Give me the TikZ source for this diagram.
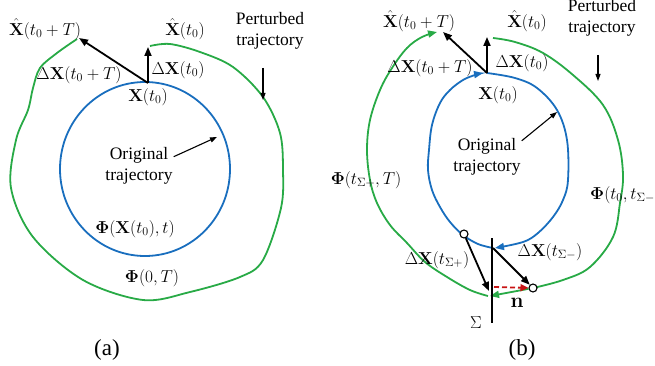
\documentclass[tikz,border=0pt]{standalone}
\usepackage[no-math]{fontspec}
\setmainfont{Liberation Serif}
\usepackage{amsmath}
\usetikzlibrary{arrows.meta,positioning}
\definecolor{orbblue}{RGB}{25,110,190}
\definecolor{pertgreen}{RGB}{40,170,70}
\definecolor{nred}{RGB}{200,20,20}

\begin{document}
\begin{tikzpicture}[x=1pt, y=-1pt,
  lbl/.style={font=\fontsize{17}{19}\selectfont, inner sep=1pt},
  txt/.style={font=\fontsize{17.5}{21.5}\selectfont, align=center, inner sep=1pt},
  subcap/.style={font=\fontsize{23}{25}\selectfont, inner sep=1pt},
  orig/.style={draw=orbblue, line width=1.8pt},
  pert/.style={draw=pertgreen, line width=1.8pt},
  vec/.style={-{Triangle[length=9pt, width=7pt]}, line width=1.8pt},
  ptr/.style={-{Triangle[length=7pt, width=5pt]}, line width=1.1pt},
  flow/.style={-{Triangle[length=9pt, width=7pt]}},
  nvec/.style={-{Triangle[length=8pt, width=7pt]}, line width=1.8pt, draw=nred, dashed, dash pattern=on 5pt off 3pt},
  dot/.style={circle, draw, fill=white, line width=1.1pt, minimum size=8pt, inner sep=0pt}]
\useasboundingbox (0,0) rectangle (655,366);
% (a) original and perturbed trajectory
\draw[orig] (145,169) circle[x radius=85, y radius=87];
\coordinate (xa) at (148,83);
\coordinate (xha) at (148,47);
\coordinate (xhTa) at (79,38);
\draw[pert] plot[smooth, tension=0.55] coordinates {(150,46) (170,44) (200,52) (233,67)
  (263,97) (280,133) (283,170) (281,208) (263,260) (240,277) (190,292) (143,300) (83,280)
  (33,237) (11,188) (16,140) (28,110) (33,88) (40,68) (57,53) (77,39)};
\draw[vec] (xa) -- (xha);
\draw[vec] (xa) -- (xhTa);
\node[lbl, below=4pt of xa] (x0a) {$\mathbf{X}(t_0)$};
\node[lbl] (dx0a) at (178,70) {$\Delta\mathbf{X}(t_0)$};
\node[lbl] (dxTa) at (79,75) {$\Delta\mathbf{X}(t_0+T)$};
\node[lbl] (hx0a) at (185,29) {$\hat{\mathbf{X}}(t_0)$};
\node[lbl] (hxTa) at (45,29) {$\hat{\mathbf{X}}(t_0+T)$};
\node[txt] (perta) at (270,31) {Perturbed\\trajectory};
\coordinate (pertfoota) at (263,68);
\coordinate (perttipa) at (263,100);
\draw[ptr] (pertfoota) -- (perttipa);
\node[txt] (orga) at (139,166) {Original\\trajectory};
\coordinate (orgtipa) at (217,137);
\draw[ptr] (orga.15) -- (orgtipa);
\node[lbl] (phixa) at (135,229) {$\mathbf{\Phi}(\mathbf{X}(t_0),t)$};
\node[lbl] (phi0a) at (152,278) {$\mathbf{\Phi}(0,T)$};
\node[subcap] (capa) at (107,350) {(a)};
% (b) trajectory crossing the section
\coordinate (xb) at (487,73);
\coordinate (xhb) at (487,37);
\coordinate (xhTb) at (443,32);
\coordinate (crossb) at (493,248);
\coordinate (plustip) at (489,291);
\coordinate (nstart) at (494,287);
\coordinate (sigtop) at (492,238);
\coordinate (sigbot) at (492,323);
\coordinate (sigfoot) at (490,296);
\draw[orig, flow] plot[smooth, tension=0.6] coordinates {(487,73) (515,78) (537,88) (557,110)
  (567,140) (568,180) (563,200) (553,217) (538,233) (523,242) (495,248)};
\draw[orig, flow] plot[smooth, tension=0.6] coordinates {(493,248) (478,244) (463,235) (450,222)
  (440,207) (432,190) (428,170) (429,150) (432,125) (440,103) (450,90) (463,80) (475,75) (483,73)};
\draw[pert] plot[smooth, tension=0.6] coordinates {(493,38) (515,42) (543,53) (573,75) (603,105)
  (618,140) (623,175) (620,203) (613,237) (590,267) (563,280) (533,288)};
\draw[pert, flow] plot[smooth, tension=0.6] coordinates {(488,296) (470,290) (447,277) (425,262)
  (407,243) (390,225) (377,203) (370,180) (367,150) (370,120) (380,90) (392,68) (407,48)
  (422,37) (437,32)};
\node[dot] (dotp) at (464,234) {};
\node[dot] (dotm) at (533,288) {};
\draw[pert, flow] (dotm) -- (sigfoot);
\draw[line width=1.3pt] (sigtop) -- (sigbot);
\draw[vec] (dotp) -- (plustip);
\draw[vec] (crossb) -- (dotm);
\draw[nvec] (nstart) -- (dotm);
\draw[vec] (xb) -- (xhb);
\draw[vec] (xb) -- (xhTb);
\node[lbl] (x0b) at (498,95) {$\mathbf{X}(t_0)$};
\node[lbl] (dx0b) at (522,63) {$\Delta\mathbf{X}(t_0)$};
\node[lbl] (dxTb) at (430,68) {$\Delta\mathbf{X}(t_0+T)$};
\node[lbl] (hx0b) at (527,21) {$\hat{\mathbf{X}}(t_0)$};
\node[lbl] (hxTb) at (419,21) {$\hat{\mathbf{X}}(t_0+T)$};
\node[txt] (pertb) at (602,18) {Perturbed\\trajectory};
\coordinate (pertfootb) at (598,55);
\coordinate (perttipb) at (598,81);
\draw[ptr] (pertfootb) -- (perttipb);
\node[txt] (orgb) at (487,157) {Original\\trajectory};
\coordinate (orgtipb) at (557,112);
\draw[ptr] (orgb.25) -- (orgtipb);
\node[lbl] (phip) at (366,180) {$\mathbf{\Phi}(t_{\Sigma+},T)$};
\node[lbl, anchor=west] (phim) at (589,195) {$\mathbf{\Phi}(t_0,t_{\Sigma-})$};
\node[lbl] (dxp) at (437,260) {$\Delta\mathbf{X}(t_{\Sigma+})$};
\node[lbl] (dxm) at (550,252) {$\Delta\mathbf{X}(t_{\Sigma-})$};
\node[lbl, font=\fontsize{19}{21}\selectfont] (sig) at (476,323) {$\Sigma$};
\node[lbl, font=\fontsize{22}{24}\selectfont] (nvecb) at (517,303) {$\mathbf{n}$};
\node[subcap] (capb) at (522,350) {(b)};
\end{tikzpicture}
\end{document}
